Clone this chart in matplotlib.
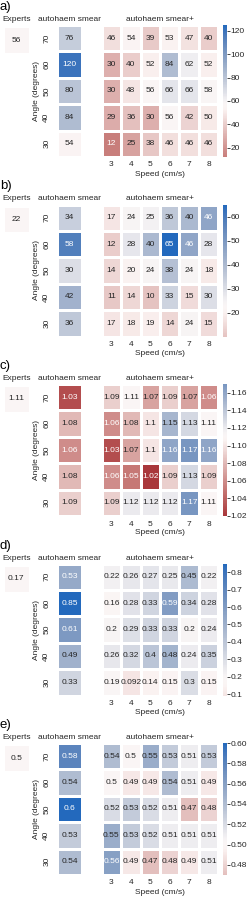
import numpy as np
import matplotlib
matplotlib.use("Agg")
import matplotlib.pyplot as plt
import seaborn as sns
from matplotlib.colors import Normalize
import matplotlib.cm as cm

plt.rcParams['font.family'] = ['Liberation Sans', 'DejaVu Sans']

# ---------------- data ----------------
angles = [70, 60, 50, 40, 30]
speeds = [3, 4, 5, 6, 7, 8]
panel_labels = ['a)', 'b)', 'c)', 'd)', 'e)']

experts_a = 56
smear_a = [76, 120, 80, 84, 54]
smearplus_a = [[46, 54, 39, 53, 47, 40],
               [30, 40, 52, 84, 62, 52],
               [30, 48, 56, 66, 66, 58],
               [29, 36, 30, 56, 42, 50],
               [12, 25, 38, 46, 46, 46]]

experts_b = 22
smear_b = [34, 58, 30, 42, 36]
smearplus_b = [[17, 24, 25, 36, 40, 46],
               [12, 28, 40, 65, 46, 28],
               [14, 20, 24, 38, 24, 18],
               [11, 14, 10, 33, 15, 30],
               [17, 18, 19, 14, 24, 15]]

experts_c = 1.11
smear_c = [1.03, 1.08, 1.06, 1.08, 1.09]
smearplus_c = [[1.09, 1.11, 1.07, 1.09, 1.07, 1.06],
               [1.06, 1.08, 1.1, 1.15, 1.13, 1.11],
               [1.03, 1.07, 1.1, 1.16, 1.17, 1.16],
               [1.06, 1.05, 1.02, 1.09, 1.13, 1.09],
               [1.09, 1.12, 1.12, 1.12, 1.17, 1.11]]

experts_d = 0.17
smear_d = [0.53, 0.85, 0.61, 0.49, 0.33]
smearplus_d = [[0.22, 0.26, 0.27, 0.25, 0.45, 0.22],
               [0.16, 0.28, 0.33, 0.59, 0.34, 0.28],
               [0.2, 0.29, 0.33, 0.33, 0.2, 0.24],
               [0.26, 0.32, 0.4, 0.48, 0.24, 0.35],
               [0.19, 0.092, 0.14, 0.15, 0.3, 0.15]]

experts_e = 0.5
smear_e = [0.58, 0.54, 0.6, 0.53, 0.54]
smearplus_e = [[0.54, 0.5, 0.55, 0.53, 0.51, 0.53],
               [0.5, 0.49, 0.49, 0.54, 0.51, 0.49],
               [0.52, 0.53, 0.52, 0.51, 0.47, 0.48],
               [0.55, 0.53, 0.52, 0.51, 0.51, 0.51],
               [0.56, 0.49, 0.47, 0.48, 0.49, 0.51]]

# colour-scale limits
color_min = [12, 10, 1.02, 0.092, 0.47]
color_max = [125, 65, 1.17, 0.85, 0.60]
cbar_ticks = [[20, 40, 60, 80, 100, 120],
              [20, 30, 40, 50, 60],
              [1.02, 1.04, 1.06, 1.08, 1.10, 1.12, 1.14, 1.16],
              [0.1, 0.2, 0.3, 0.4, 0.5, 0.6, 0.7, 0.8],
              [0.48, 0.50, 0.52, 0.54, 0.56, 0.58, 0.60]]
cbar_fmt = ['{:.0f}', '{:.0f}', '{:.2f}', '{:.1f}', '{:.2f}']

experts_all = [experts_a, experts_b, experts_c, experts_d, experts_e]
smear_all = [smear_a, smear_b, smear_c, smear_d, smear_e]
smearplus_all = [smearplus_a, smearplus_b, smearplus_c, smearplus_d, smearplus_e]

# ---------------- figure ----------------
W, H = 249, 900
fig = plt.figure(figsize=(W / 100, H / 100), dpi=100)
fig.patch.set_facecolor('white')

cmap = sns.color_palette("vlag_r", as_cmap=True)
TXT = '#262626'
FS = 6


def add_ax(x0, y0, w, h):
    return fig.add_axes([x0 / W, 1 - (y0 + h) / H, w / W, h / H])


def ftext(x, y, s, **kw):
    kw.setdefault('color', TXT)
    kw.setdefault('fontsize', FS)
    fig.text(x / W, 1 - y / H, s, **kw)


def lum(rgb):
    c = np.array(rgb[:3])
    c = np.where(c <= 0.03928, c / 12.92, ((c + 0.055) / 1.055) ** 2.4)
    return 0.2126 * c[0] + 0.7152 * c[1] + 0.0722 * c[2]


def draw_heat(ax, data, norm):
    data = np.asarray(data, dtype=float)
    nr, nc = data.shape
    ax.pcolormesh(np.arange(nc + 1), np.arange(nr + 1), data, cmap=cmap, norm=norm,
                  edgecolors='white', linewidth=0.9)
    ax.set_xlim(0, nc)
    ax.set_ylim(nr, 0)
    for i in range(nr):
        for j in range(nc):
            v = data[i, j]
            col = cmap(norm(v))
            tc = TXT if lum(col) > 0.408 else 'white'
            ax.text(j + 0.5, i + 0.5, '{:g}'.format(v), ha='center', va='center',
                    fontsize=FS, color=tc)
    ax.set_xticks([])
    ax.set_yticks([])
    for s in ax.spines.values():
        s.set_visible(False)


for k in range(5):
    top = 25 + 179.5 * k
    gh = 132
    center = experts_all[k]
    vmin, vmax = color_min[k], color_max[k]
    vr = max(vmax - center, center - vmin)
    norm = Normalize(center - vr, center + vr)

    # panel label
    lab_y = 10.2 if k == 0 else top - 15
    ftext(0, lab_y, panel_labels[k], fontsize=9.5, color='black',
          ha='left', va='baseline')

    # experts cell
    axe = add_ax(2.7, top + 1, 27.3, 28)
    draw_heat(axe, [[center]], norm)
    ftext(16.3, top - 5.5, 'Experts', ha='center', va='center')

    # autohaem smear
    axs = add_ax(56.7, top, 25.6, gh)
    draw_heat(axs, np.array(smear_all[k])[:, None], norm)
    ftext(69.5, top - 5.5, 'autohaem smear', ha='center', va='center')
    rh = gh / len(angles)
    for i, a in enumerate(angles):
        ftext(46.7, top + rh * (i + 0.5), str(a), rotation=90, ha='center', va='center')
    ftext(37, top + gh / 2, 'Angle (degrees)', rotation=90, ha='center', va='center')

    # autohaem smear+
    x0, gw = 101.7, 116.6
    axp = add_ax(x0, top, gw, gh)
    draw_heat(axp, smearplus_all[k], norm)
    ftext(x0 + gw / 2, top - 5.5, 'autohaem smear+', ha='center', va='center')
    cw = gw / len(speeds)
    for j, s in enumerate(speeds):
        ftext(x0 + cw * (j + 0.5), top + 140, str(s), ha='center', va='center')
    ftext(x0 + gw / 2, top + 149, 'Speed (cm/s)', ha='center', va='center')

    # colorbar
    cax = add_ax(222.7, top, 4, gh)
    sm = cm.ScalarMappable(norm=norm, cmap=cmap)
    cb = fig.colorbar(sm, cax=cax, boundaries=np.linspace(vmin, vmax, 257))
    cb.outline.set_visible(False)
    cb.set_ticks(cbar_ticks[k])
    cb.set_ticklabels([cbar_fmt[k].format(t) for t in cbar_ticks[k]])
    cax.tick_params(axis='y', length=2, width=0.6, pad=0.8, labelsize=FS,
                    colors=TXT, direction='out')
    cax.set_ylim(vmin, vmax)

fig.savefig('out.png', dpi=100, facecolor='white')
